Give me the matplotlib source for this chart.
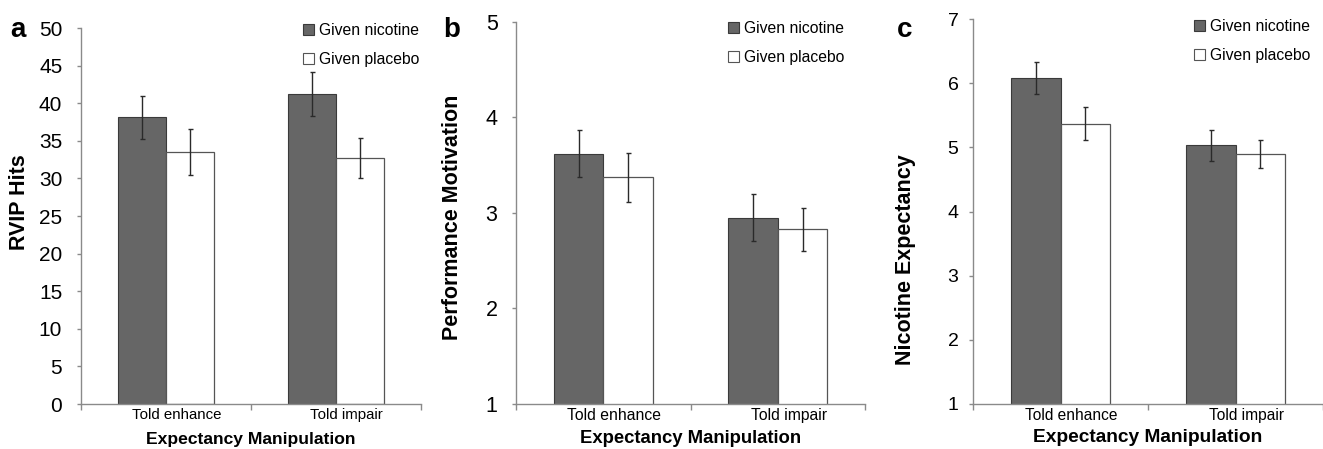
import numpy as np
import matplotlib.pyplot as plt
from matplotlib.patches import Patch

plt.rcParams['font.family'] = ['Liberation Sans', 'DejaVu Sans']

# Data
groups = ['Told enhance', 'Told impair']
series = ['Given nicotine', 'Given placebo']

rvip_nicotine = [38.1, 41.2]
rvip_nicotine_err = [2.9, 2.9]
rvip_placebo = [33.5, 32.7]
rvip_placebo_err = [3.1, 2.7]

motiv_nicotine = [3.62, 2.95]
motiv_nicotine_err = [0.245, 0.245]
motiv_placebo = [3.37, 2.83]
motiv_placebo_err = [0.26, 0.225]

expect_nicotine = [6.08, 5.03]
expect_nicotine_err = [0.245, 0.24]
expect_placebo = [5.37, 4.90]
expect_placebo_err = [0.26, 0.22]

panels = [
    dict(letter='a', ylabel='RVIP Hits', nic=rvip_nicotine, nic_err=rvip_nicotine_err,
         pla=rvip_placebo, pla_err=rvip_placebo_err, ylim=(0, 50), yticks=np.arange(0, 51, 5),
         rect=[81, 28, 420.7, 404], xmax=1.426, tick_fs=15, tick_pad=10.5, xl_fs=12.6, xl_pad=7,
         xt_fs=10.8, letter_xy=(10, 37), ylab_x=20, ylab_y=202, leg_xy=(303, 23)),
    dict(letter='b', ylabel='Performance Motivation', nic=motiv_nicotine, nic_err=motiv_nicotine_err,
         pla=motiv_placebo, pla_err=motiv_placebo_err, ylim=(1, 5), yticks=np.arange(1, 6),
         rect=[516.3, 21.7, 865, 404], xmax=1.5, tick_fs=15.5, tick_pad=10.5, xl_fs=13.3, xl_pad=5,
         xt_fs=11.3, letter_xy=(443, 37), ylab_x=453, ylab_y=217, leg_xy=(728, 21)),
    dict(letter='c', ylabel='Nicotine Expectancy', nic=expect_nicotine, nic_err=expect_nicotine_err,
         pla=expect_placebo, pla_err=expect_placebo_err, ylim=(1, 7), yticks=np.arange(1, 8),
         rect=[973, 19, 1323, 404], xmax=1.444, tick_fs=14, tick_pad=7.5, xl_fs=13.8, xl_pad=4,
         xt_fs=11.2, letter_xy=(897, 37), ylab_x=906, ylab_y=260, leg_xy=(1194, 19)),
]

W, H = 1323, 449
fig = plt.figure(figsize=(W / 100, H / 100), dpi=100)

dark = '#666666'
spine_col = '#8a8a8a'
bw = 0.284
x = np.arange(len(groups))

for p in panels:
    l, t, r, b = p['rect']
    ax = fig.add_axes([l / W, 1 - b / H, (r - l) / W, (b - t) / H])
    ax.bar(x - bw / 2, p['nic'], bw, color=dark, edgecolor='#3a3a3a', linewidth=0.8,
           yerr=p['nic_err'], error_kw=dict(ecolor='#2a2a2a', elinewidth=1, capsize=1.8, capthick=1))
    ax.bar(x + bw / 2, p['pla'], bw, color='white', edgecolor='#555555', linewidth=0.9,
           yerr=p['pla_err'], error_kw=dict(ecolor='#2a2a2a', elinewidth=1, capsize=1.8, capthick=1))
    ax.set_xlim(-0.5, p['xmax'])
    ax.set_ylim(*p['ylim'])
    ax.set_yticks(p['yticks'])
    ax.tick_params(axis='y', direction='out', length=3, width=1, color=spine_col,
                   labelsize=p['tick_fs'], pad=p['tick_pad'])
    ax.set_xticks(x + 0.063)
    ax.set_xticklabels(groups, fontsize=p['xt_fs'])
    ax.tick_params(axis='x', length=0, pad=3)
    ax.set_xticks([-0.5, 0.5, 1.5], minor=True)
    ax.tick_params(axis='x', which='minor', direction='out', length=4, width=1, color=spine_col)
    for s in ['top', 'right']:
        ax.spines[s].set_visible(False)
    for s in ['left', 'bottom']:
        ax.spines[s].set_color(spine_col)
        ax.spines[s].set_linewidth(1)
    ax.set_xlabel('Expectancy Manipulation', fontsize=p['xl_fs'], fontweight='bold',
                  labelpad=p['xl_pad'])

    fig.text(p['ylab_x'] / W, 1 - p['ylab_y'] / H, p['ylabel'], rotation=90,
             ha='center', va='center', fontsize=15.5, fontweight='bold')
    fig.text(p['letter_xy'][0] / W, 1 - p['letter_xy'][1] / H, p['letter'],
             ha='left', va='baseline', fontsize=20, fontweight='bold')

    handles = [Patch(facecolor=dark, edgecolor='#3a3a3a', linewidth=0.8),
               Patch(facecolor='white', edgecolor='#555555', linewidth=0.8)]
    ax.legend(handles, series, loc='upper left',
              bbox_to_anchor=(p['leg_xy'][0] / W, 1 - p['leg_xy'][1] / H),
              bbox_transform=fig.transFigure, frameon=False, fontsize=11.3,
              handlelength=0.72, handleheight=0.72, handletextpad=0.3,
              labelspacing=0.9, borderpad=0, borderaxespad=0)

fig.savefig('out.png', dpi=100)
